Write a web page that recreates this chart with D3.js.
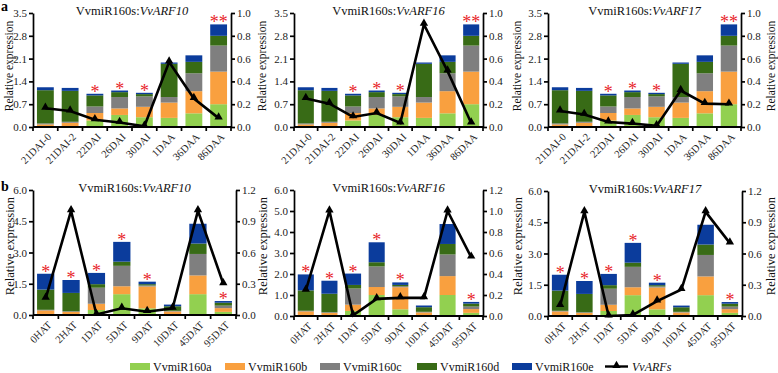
<!DOCTYPE html>
<html>
<head>
<meta charset="utf-8">
<script src="https://cdn.jsdelivr.net/npm/d3@7"></script>
<style>
  body { margin: 0; background: #fff; }
  svg { display: block; }
  svg text { font-family: "Liberation Serif", "Times New Roman", "DejaVu Serif", serif; }
</style>
</head>
<body>
<svg id="chart" width="778" height="373" font-family="Liberation Serif, Times New Roman, DejaVu Serif, serif"></svg>
<script>
// ---- data ----
const stagesA = ["21DAI-0", "21DAI-2", "22DAI", "26DAI", "30DAI", "1DAA", "36DAA", "86DAA"];
const stagesB = ["0HAT", "2HAT", "1DAT", "5DAT", "9DAT", "10DAT", "45DAT", "95DAT"];
const mirNames = ["VvmiR160a", "VvmiR160b", "VvmiR160c", "VvmiR160d", "VvmiR160e"];

// row a, stacked miR160 levels (left axis)
const miR160aA = [0.02, 0.03, 0.20, 0.37, 0.30, 0.28, 0.42, 0.70];
const miR160bA = [0.06, 0.10, 0.23, 0.20, 0.32, 0.47, 0.68, 1.00];
const miR160cA = [0.03, 0.03, 0.20, 0.35, 0.32, 0.17, 0.55, 0.80];
const miR160dA = [1.02, 0.95, 0.34, 0.15, 0.07, 1.02, 0.35, 0.30];
const miR160eA = [0.09, 0.09, 0.05, 0.05, 0.04, 0.04, 0.20, 0.35];

// row b
const miR160aB = [0.05, 0.03, 0.24, 1.00, 0.32, 0.02, 1.00, 0.15];
const miR160bB = [0.17, 0.12, 0.30, 0.38, 1.05, 0.15, 0.90, 0.18];
const miR160cB = [0.03, 0.03, 0.77, 0.98, 0.05, 0.03, 1.03, 0.12];
const miR160dB = [0.97, 0.88, 0.17, 0.20, 0.06, 0.22, 0.50, 0.14];
const miR160eB = [0.76, 0.62, 0.54, 0.95, 0.12, 0.08, 0.95, 0.08];

// target ARFs (right axis)
const arf10A = [0.164, 0.14, 0.063, 0.04, 0.006, 0.57, 0.25, 0.078];
const arf16A = [0.25, 0.205, 0.088, 0.123, 0.035, 0.90, 0.49, 0.035];
const arf17A = [0.14, 0.11, 0.044, 0.03, 0.01, 0.32, 0.205, 0.20];
const arf10B = [0.16, 1.0, 0.005, 0.064, 0.032, 0.064, 1.0, 0.30];
const arf16B = [0.245, 1.0, 0.006, 0.163, 0.173, 0.173, 1.0, 0.56];
const arf17B = [0.10, 1.0, 0.0, 0.01, 0.143, 0.254, 1.0, 0.70];

const starsA = ["", "", "*", "*", "*", "", "", "**"];
const starsB = ["*", "*", "*", "*", "*", "", "", "*"];

const colors = ["#92d050", "#f9a03f", "#7f7f7f", "#386b16", "#0b3c9c"];
const serif = "Liberation Serif, Times New Roman, DejaVu Serif, serif";

// build stacked rows
function toRows(stages, series) {
  return stages.map((s, i) => {
    let row = { stage: s };
    mirNames.forEach((m, k) => { row[m] = series[k][i]; });
    return row;
  });
}
const rowsA = toRows(stagesA, [miR160aA, miR160bA, miR160cA, miR160dA, miR160eA]);
const rowsB = toRows(stagesB, [miR160aB, miR160bB, miR160cB, miR160dB, miR160eB]);

const panels = [
  { rows: rowsA, stages: stagesA, stars: starsA, gene: "VvARF10", line: arf10A, x0: 33, x1: 231, y0: 13, y1: 127,
    lMax: 3.5, lStep: 0.7, rMax: 1.0, rStep: 0.2, labL: 9, labY: 66, labSize: 11.5, letter: "a", letterY: 11 },
  { rows: rowsA, stages: stagesA, stars: starsA, gene: "VvARF16", line: arf16A, x0: 294, x1: 483, y0: 13, y1: 127,
    lMax: 3.5, lStep: 0.7, rMax: 1.0, rStep: 0.2, labL: 262, labY: 66, labSize: 11.5 },
  { rows: rowsA, stages: stagesA, stars: starsA, gene: "VvARF17", line: arf17A, x0: 548, x1: 741, y0: 13, y1: 127,
    lMax: 3.5, lStep: 0.7, rMax: 1.0, rStep: 0.2, labL: 517, labR: 771, labY: 66, labSize: 11.5 },
  { rows: rowsB, stages: stagesB, stars: starsB, gene: "VvARF10", line: arf10B, x0: 33, x1: 236, y0: 190, y1: 315,
    lMax: 6, lStep: 1.5, rMax: 1.2, rStep: 0.3, labL: 10, labY: 246, labSize: 12.5, letter: "b", letterY: 191 },
  { rows: rowsB, stages: stagesB, stars: starsB, gene: "VvARF16", line: arf16B, x0: 294, x1: 483, y0: 190, y1: 316,
    lMax: 6, lStep: 1.0, rMax: 1.2, rStep: 0.2, labL: 263, labY: 246, labSize: 12.5 },
  { rows: rowsB, stages: stagesB, stars: starsB, gene: "VvARF17", line: arf17B, x0: 548, x1: 742, y0: 191, y1: 316,
    lMax: 6, lStep: 1.5, rMax: 1.2, rStep: 0.3, labL: 518, labR: 771, labY: 246, labSize: 12.5 }
];

const svg = d3.select("#chart");
const fmt = d3.format(".1f");
const stack = d3.stack().keys(mirNames);
const tri = d3.symbol(d3.symbolTriangle, 30);

panels.forEach(p => {
  const g = svg.append("g").attr("font-family", serif);
  const x = d3.scaleBand().domain(p.stages).range([p.x0, p.x1]).padding(0);
  const bw = x.bandwidth() * 0.68;
  const yL = d3.scaleLinear().domain([0, p.lMax]).range([p.y1, p.y0]);
  const yR = d3.scaleLinear().domain([0, p.rMax]).range([p.y1, p.y0]);
  const cx = d => x(d) + x.bandwidth() / 2;

  // stacked bars
  g.selectAll(".layer")
    .data(stack(p.rows)).enter()
    .append("g")
      .attr("fill", (d, i) => colors[i])
    .selectAll("rect")
    .data(d => d).enter()
    .append("rect")
      .attr("x", d => cx(d.data.stage) - bw / 2)
      .attr("width", bw)
      .attr("y", d => yL(d[1]))
      .attr("height", d => Math.max(0, yL(d[0]) - yL(d[1])));

  // significance stars
  g.selectAll(".star")
    .data(p.rows).enter()
    .append("text")
      .attr("x", d => cx(d.stage))
      .attr("y", d => yL(d3.sum(mirNames, m => d[m])) + 4)
      .attr("text-anchor", "middle")
      .attr("font-family", serif)
      .attr("font-size", 18)
      .attr("fill", "#e8262b")
      .text((d, i) => p.stars[i]);

  // ARF line
  const pts = p.stages.map((s, i) => [cx(s), yR(p.line[i])]);
  g.append("path")
    .attr("d", d3.line()(pts))
    .attr("fill", "none")
    .attr("stroke", "#000")
    .attr("stroke-width", 2.6)
    .attr("stroke-linejoin", "miter");
  g.selectAll(".pt")
    .data(pts).enter()
    .append("path")
      .attr("d", tri)
      .attr("transform", d => "translate(" + d[0] + "," + (d[1] - 1) + ")")
      .attr("fill", "#000");

  // axes
  const ticksL = d3.range(0, p.lMax + 1e-9, p.lStep);
  const ticksR = d3.range(0, p.rMax + 1e-9, p.rStep);
  const axL = g.append("g").attr("transform", "translate(" + p.x0 + ",0)")
    .call(d3.axisLeft(yL).tickValues(ticksL).tickFormat(fmt).tickSize(4).tickSizeOuter(0).tickPadding(2));
  const axR = g.append("g").attr("transform", "translate(" + p.x1 + ",0)")
    .call(d3.axisRight(yR).tickValues(ticksR).tickFormat(fmt).tickSize(4).tickSizeOuter(0).tickPadding(2));
  [axL, axR].forEach(a => {
    a.attr("font-family", serif);
    a.selectAll("path, line").attr("stroke", "#000").attr("stroke-width", 1.7);
    a.selectAll("text").attr("font-size", 11).attr("font-family", serif).attr("fill", "#222");
  });

  // bottom axis with ticks between categories
  const bounds = p.stages.map(s => x(s)).concat([p.x1]);
  g.append("line")
    .attr("x1", p.x0).attr("x2", p.x1).attr("y1", p.y1).attr("y2", p.y1)
    .attr("stroke", "#000").attr("stroke-width", 1.9);
  g.selectAll(".xt")
    .data(bounds).enter()
    .append("line")
      .attr("x1", d => d).attr("x2", d => d)
      .attr("y1", p.y1).attr("y2", p.y1 + 4)
      .attr("stroke", "#000").attr("stroke-width", 1.7);
  g.selectAll(".xl")
    .data(p.stages).enter()
    .append("text")
      .attr("transform", d => "translate(" + (cx(d) + 4) + "," + (p.y1 + 8) + ") rotate(-45)")
      .attr("text-anchor", "end")
      .attr("dy", "0.35em")
      .attr("font-family", serif)
      .attr("font-size", 10.5)
      .attr("fill", "#222")
      .text(d => d);

  // title
  const t = g.append("text")
    .attr("x", (p.x0 + p.x1) / 2)
    .attr("y", p.y0 + 2)
    .attr("text-anchor", "middle")
    .attr("font-family", serif)
    .attr("font-size", 12.5)
    .attr("fill", "#111");
  t.append("tspan").text("VvmiR160s:");
  t.append("tspan").attr("font-style", "italic").text(p.gene);

  // axis titles
  [p.labL, p.labR].forEach(lx => {
    if (lx === undefined) return;
    g.append("text")
      .attr("transform", "translate(" + (lx + 4) + "," + p.labY + ") rotate(-90)")
      .attr("text-anchor", "middle")
      .attr("font-family", serif)
      .attr("font-size", p.labSize)
      .attr("fill", "#111")
      .text("Relative expression");
  });

  if (p.letter) {
    g.append("text")
      .attr("x", 1).attr("y", p.letterY)
      .attr("font-family", serif)
      .attr("font-size", 14).attr("font-weight", "bold")
      .text(p.letter);
  }
});

// legend
const legendX = [130, 225, 320, 417, 512];
const lg = svg.append("g").attr("font-family", serif);
mirNames.forEach((m, i) => {
  lg.append("rect").attr("x", legendX[i]).attr("y", 363).attr("width", 20).attr("height", 7).attr("fill", colors[i]);
  lg.append("text").attr("x", legendX[i] + 23).attr("y", 370.5).attr("font-size", 12).attr("fill", "#111").text(m);
});
lg.append("line").attr("x1", 605).attr("x2", 628).attr("y1", 366.5).attr("y2", 366.5)
  .attr("stroke", "#000").attr("stroke-width", 2.4);
lg.append("path").attr("d", tri).attr("transform", "translate(616.5,365.5)").attr("fill", "#000");
lg.append("text").attr("x", 632).attr("y", 370.5).attr("font-size", 12).attr("font-style", "italic")
  .attr("fill", "#111").text("VvARFs");
</script>
</body>
</html>
